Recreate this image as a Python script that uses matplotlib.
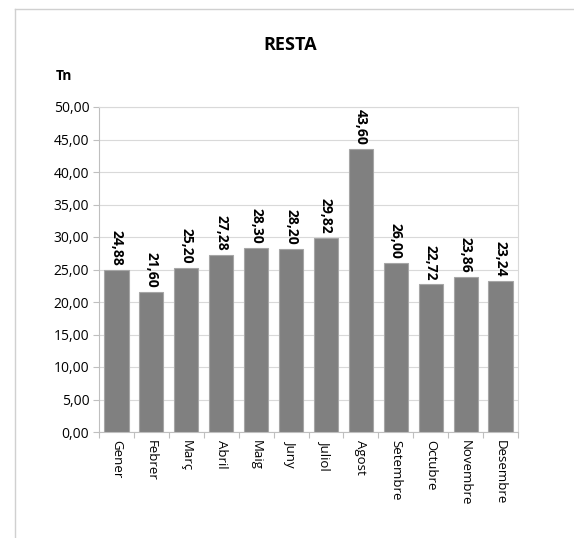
import matplotlib.pyplot as plt
from matplotlib.lines import Line2D

months = ['Gener', 'Febrer', 'Març', 'Abril', 'Maig', 'Juny', 'Juliol',
          'Agost', 'Setembre', 'Octubre', 'Novembre', 'Desembre']
values = [24.88, 21.60, 25.20, 27.28, 28.30, 28.20, 29.82,
          43.60, 26.00, 22.72, 23.86, 23.24]
yticks = [0, 5, 10, 15, 20, 25, 30, 35, 40, 45, 50]

plt.rcParams['font.family'] = ['Open Sans', 'DejaVu Sans']

W, H = 574, 538
fig = plt.figure(figsize=(W / 100, H / 100), dpi=100)
ax = fig.add_axes([99 / W, 1 - 432 / H, (518 - 99) / W, (432 - 107) / H])

x = range(len(months))
bars = ax.bar(x, values, width=0.69, color='#808080', edgecolor='#a6a6a6',
              linewidth=0.8, zorder=3)

for i, v in enumerate(values):
    ax.annotate('{:.2f}'.format(v).replace('.', ','), (i, v),
                xytext=(0, 3), textcoords='offset points',
                rotation=270, ha='center', va='bottom',
                fontsize=10, fontweight='bold', color='black')

ax.set_ylim(0, 50)
ax.set_xlim(-0.5, len(months) - 0.5)
ax.set_yticks(yticks)
ax.set_yticklabels(['{:.2f}'.format(t).replace('.', ',') for t in yticks],
                   fontsize=10)
ax.set_xticks([i - 0.5 for i in range(len(months) + 1)], minor=False)
ax.set_xticklabels([])
ax.set_xticks(list(x), minor=True)
ax.set_xticklabels(months, minor=True, rotation=270, fontsize=9.5,
                   ha='center', va='top')
ax.tick_params(axis='x', which='minor', length=0, pad=6)
ax.tick_params(axis='x', which='major', length=4, color='#bfbfbf')
ax.tick_params(axis='y', length=4, color='#bfbfbf', pad=3)

ax.grid(axis='y', color='#d9d9d9', linewidth=0.8, zorder=0)
for s in ['top', 'right']:
    ax.spines[s].set_color('#d9d9d9')
for s in ['left', 'bottom']:
    ax.spines[s].set_color('#bfbfbf')

fig.text(290 / W, 1 - 45 / H, 'RESTA', ha='center', va='center',
         fontsize=13, fontweight='bold')
fig.text(64 / W, 1 - 76 / H, 'Tn', ha='center', va='center',
         fontsize=10, fontweight='bold')

# outer chart frame
fig.add_artist(Line2D([15 / W, 15 / W], [0, 1 - 9 / H], color='#d0d0d0',
                      linewidth=1, transform=fig.transFigure))
fig.add_artist(Line2D([15 / W, 1], [1 - 9 / H, 1 - 9 / H], color='#d0d0d0',
                      linewidth=1, transform=fig.transFigure))

fig.savefig('out.png', dpi=100)
